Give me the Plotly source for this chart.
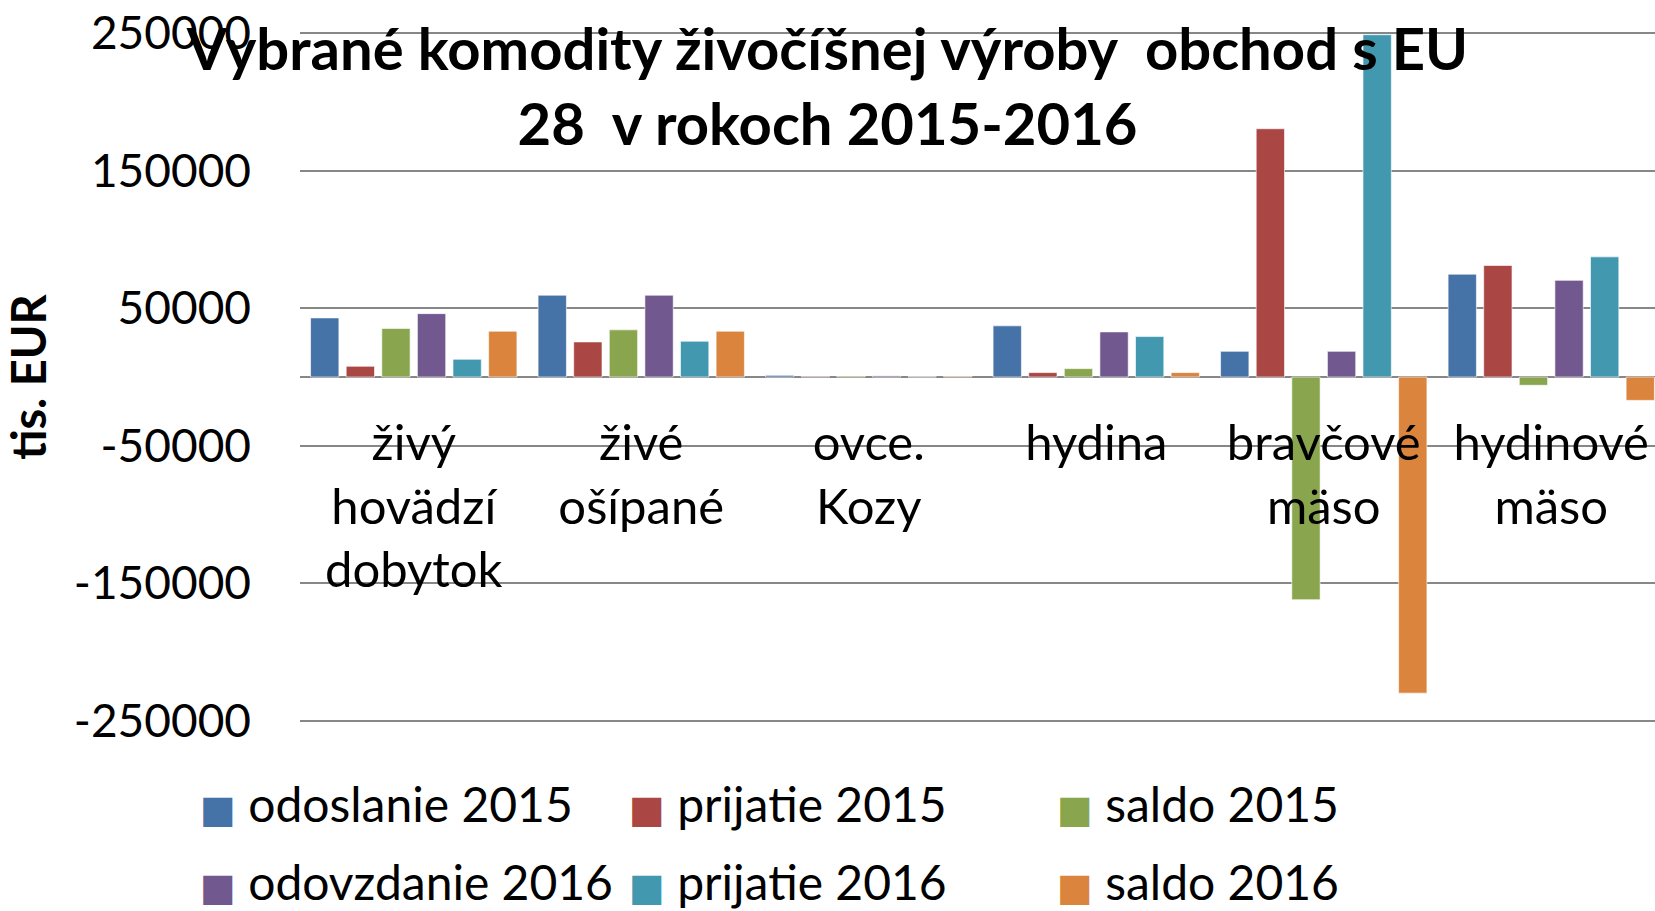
import plotly.graph_objects as go

# kategórie a hodnoty (tis. EUR)
categories = [
    "živý<br>hovädzí<br>dobytok",
    "živé<br>ošípané",
    "ovce.<br>Kozy",
    "hydina",
    "bravčové<br>mäso",
    "hydinové<br>mäso",
]

odoslanie_2015 = [43000, 59500, 1200, 37200, 18700, 74800]
prijatie_2015 = [7800, 25500, 500, 3200, 180600, 81100]
saldo_2015 = [35300, 34300, 700, 6100, -162000, -6000]
odovzdanie_2016 = [46100, 59500, 800, 32800, 18700, 70300]
prijatie_2016 = [12900, 26000, 200, 29400, 249000, 87400]
saldo_2016 = [33300, 33300, 600, 3200, -230000, -17000]

series_names = [
    "odoslanie 2015", "prijatie 2015", "saldo 2015",
    "odovzdanie 2016", "prijatie 2016", "saldo 2016",
]
series_values = [
    odoslanie_2015, prijatie_2015, saldo_2015,
    odovzdanie_2016, prijatie_2016, saldo_2016,
]
colors = ["#4572A7", "#AA4643", "#89A54E", "#71588F", "#4198AF", "#DB843D"]

y_ticks = [-250000, -150000, -50000, 50000, 150000, 250000]

FONT = "Lato"

W, H = 1655, 911
L, T, B = 300, 32, 189
PLOT_W = W - L
PLOT_H = H - T - B

fig = go.Figure()

for name, vals, col in zip(series_names, series_values, colors):
    fig.add_trace(
        go.Bar(
            x=categories,
            y=vals,
            name=name,
            marker=dict(color=col, line=dict(color="rgba(255,255,255,0.6)", width=1)),
            showlegend=False,
        )
    )

# legenda ako text (väčšie štvorčeky ako má plotly)
leg_x = [198, 627, 1055]
leg_y = [804, 881]
for i, (name, col) in enumerate(zip(series_names, colors)):
    px = leg_x[i % 3]
    py = leg_y[i // 3]
    fig.add_annotation(
        x=(px - L) / PLOT_W,
        y=(T + PLOT_H - py) / PLOT_H,
        xref="paper",
        yref="paper",
        xanchor="left",
        yanchor="middle",
        showarrow=False,
        text=f"<span style='color:{col};font-family:DejaVu Sans;font-size:38px'>■</span> {name}",
        font=dict(family=FONT, size=48, color="black"),
    )

fig.update_layout(
    width=W,
    height=H,
    margin=dict(l=L, r=0, t=T, b=B),
    paper_bgcolor="white",
    plot_bgcolor="white",
    barmode="group",
    bargap=0.061,
    bargroupgap=0.205,
    font=dict(family=FONT, size=46, color="black"),
    title=dict(
        text="<b>Vybrané komodity živočíšnej výroby  obchod s EU<br>28  v rokoch 2015-2016</b>",
        x=0.5,
        xref="container",
        xanchor="center",
        y=1 - 70 / H,
        yref="container",
        yanchor="middle",
        font=dict(family=FONT, size=58, color="black"),
    ),
)

fig.update_yaxes(
    range=[-251000, 251000],
    tickvals=y_ticks,
    ticktext=[str(v) for v in y_ticks],
    showgrid=True,
    gridcolor="#878787",
    gridwidth=2,
    zeroline=True,
    zerolinecolor="#878787",
    zerolinewidth=2,
    ticklabelstandoff=48,
    ticklabeloverflow="allow",
    tickfont=dict(family=FONT, size=46),
    title=dict(text="<b>tis. EUR</b>", font=dict(family=FONT, size=47), standoff=18),
)

fig.update_xaxes(
    type="category",
    range=[-0.5, 5.456],
    anchor="free",
    position=0.5,
    showline=False,
    showgrid=False,
    ticks="",
    ticklabelstandoff=33,
    tickfont=dict(family=FONT, size=49),
)

# bez okraja stránky, aby graf sedel presne do okna
fig.write_html(
    "out.html",
    config={"displayModeBar": False},
    post_script="document.body.style.margin = '0';",
)
